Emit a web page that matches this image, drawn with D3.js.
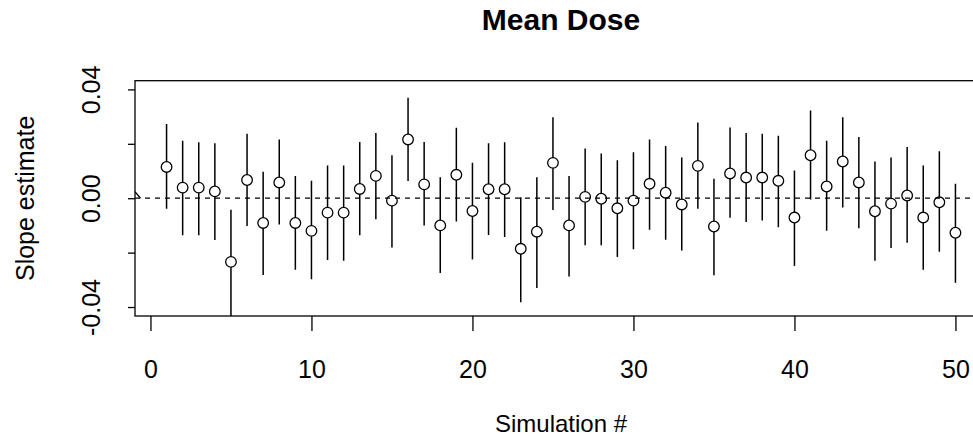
<!DOCTYPE html>
<html>
<head>
<meta charset="utf-8">
<script src="https://cdn.jsdelivr.net/npm/d3@7"></script>
<style>
    body { margin: 0; background: #fff; }
    svg { display: block; font-family: "Liberation Sans", Arial, sans-serif; }
    .axis text { font-size: 25px; fill: #000; }
    .axis line { stroke: #000; stroke-width: 1.3; }
    .axis path { display: none; }
</style>
</head>
<body>
<div id="chart"></div>
<script>
// simulation number, slope estimate and interval ends
const sims = d3.range(1, 51);
const estimate = [0.0115, 0.0039, 0.0039, 0.0025, -0.0234, 0.0067, -0.0091, 0.0058, -0.0091, -0.0120,
    -0.0053, -0.0053, 0.0034, 0.0082, -0.0009, 0.0216, 0.0051, -0.0100, 0.0086, -0.0047,
    0.0033, 0.0033, -0.0186, -0.0123, 0.0130, -0.0100, 0.0005, -0.0002, -0.0037, -0.0009,
    0.0053, 0.0020, -0.0023, 0.0119, -0.0104, 0.0091, 0.0076, 0.0076, 0.0064, -0.0071,
    0.0158, 0.0043, 0.0135, 0.0058, -0.0048, -0.0020, 0.0010, -0.0071, -0.0015, -0.0127];
const upper = [0.0273, 0.0211, 0.0206, 0.0202, -0.0042, 0.0237, 0.0097, 0.0216, 0.0082, 0.0064,
    0.0120, 0.0120, 0.0207, 0.0240, 0.0158, 0.0369, 0.0207, 0.0077, 0.0259, 0.0130,
    0.0202, 0.0206, 0.0004, 0.0077, 0.0298, 0.0082, 0.0183, 0.0164, 0.0140, 0.0169,
    0.0216, 0.0192, 0.0150, 0.0278, 0.0072, 0.0260, 0.0240, 0.0237, 0.0230, 0.0102,
    0.0322, 0.0211, 0.0298, 0.0225, 0.0135, 0.0150, 0.0188, 0.0120, 0.0173, 0.0053];
const lower = [-0.0039, -0.0136, -0.0136, -0.0154, -0.0440, -0.0102, -0.0282, -0.0097, -0.0263, -0.0298,
    -0.0227, -0.0230, -0.0136, -0.0077, -0.0181, 0.0063, -0.0100, -0.0275, -0.0086, -0.0225,
    -0.0135, -0.0143, -0.0382, -0.0330, -0.0043, -0.0288, -0.0173, -0.0173, -0.0216, -0.0188,
    -0.0116, -0.0153, -0.0192, -0.0039, -0.0283, -0.0072, -0.0087, -0.0082, -0.0107, -0.0249,
    -0.0005, -0.0120, -0.0034, -0.0110, -0.0230, -0.0183, -0.0164, -0.0263, -0.0197, -0.0311];

const xTicks = [0, 10, 20, 30, 40, 50];
const yTicks = [-0.04, -0.02, 0, 0.02, 0.04];
const yLabels = [-0.04, 0, 0.04];
// little stray curve piece poking in at the left edge
const edgeCurve = [[-0.96, 0.0024], [-0.62, 0.0]];

const width = 973, height = 439;
const box = { left: 135, right: 987, top: 80.7, bottom: 316 };

const svg = d3.select("#chart")
    .append("svg")
    .attr("width", width)
    .attr("height", height);

const xScale = d3.scaleLinear().domain([-0.96, 51.96]).range([box.left, box.right]);
const yScale = d3.scaleLinear().domain([-0.0433, 0.0432]).range([box.bottom, box.top]);

svg.append("clipPath").attr("id", "plotClip")
    .append("rect")
    .attr("x", box.left).attr("y", box.top)
    .attr("width", box.right - box.left).attr("height", box.bottom - box.top);

const data = sims.map((s, i) => ({ sim: s, est: estimate[i], lo: lower[i], hi: upper[i] }));
const r = 5.3;

const plot = svg.append("g").attr("clip-path", "url(#plotClip)");

// bars with a gap round the point (like plotCI)
plot.selectAll(".barTop")
    .data(data)
    .enter()
    .append("line")
    .attr("x1", d => xScale(d.sim))
    .attr("x2", d => xScale(d.sim))
    .attr("y1", d => yScale(d.hi))
    .attr("y2", d => yScale(d.est) - r)
    .attr("stroke", "#000")
    .attr("stroke-width", 1.5);

plot.selectAll(".barBottom")
    .data(data)
    .enter()
    .append("line")
    .attr("x1", d => xScale(d.sim))
    .attr("x2", d => xScale(d.sim))
    .attr("y1", d => yScale(d.est) + r)
    .attr("y2", d => yScale(d.lo))
    .attr("stroke", "#000")
    .attr("stroke-width", 1.5);

plot.selectAll("circle")
    .data(data)
    .enter()
    .append("circle")
    .attr("cx", d => xScale(d.sim))
    .attr("cy", d => yScale(d.est))
    .attr("r", r)
    .attr("fill", "none")
    .attr("stroke", "#000")
    .attr("stroke-width", 1.3);

// reference line at zero
plot.append("line")
    .attr("x1", box.left)
    .attr("x2", box.right)
    .attr("y1", yScale(0))
    .attr("y2", yScale(0))
    .attr("stroke", "#000")
    .attr("stroke-width", 1.3)
    .attr("stroke-dasharray", "5,5");

plot.append("path")
    .datum(edgeCurve)
    .attr("d", d3.line().x(d => xScale(d[0])).y(d => yScale(d[1])))
    .attr("fill", "none")
    .attr("stroke", "#000")
    .attr("stroke-width", 1.3);

// frame
svg.append("rect")
    .attr("x", box.left).attr("y", box.top)
    .attr("width", box.right - box.left).attr("height", box.bottom - box.top)
    .attr("fill", "none")
    .attr("stroke", "#000")
    .attr("stroke-width", 1.3);

// axes
svg.append("g")
    .attr("class", "axis")
    .attr("transform", `translate(0,${box.bottom})`)
    .call(d3.axisBottom(xScale).tickValues(xTicks).tickSize(15).tickPadding(29).tickFormat(d3.format("d")));

const yAxis = svg.append("g")
    .attr("class", "axis")
    .attr("transform", `translate(${box.left},0)`)
    .call(d3.axisLeft(yScale).tickValues(yTicks).tickSize(7)
        .tickFormat(d => yLabels.includes(d) ? d3.format(".2f")(d).replace("−", "-") : ""));

yAxis.selectAll("text")
    .attr("transform", "rotate(-90)")
    .attr("x", 0)
    .attr("y", -35)
    .attr("dy", 0)
    .attr("text-anchor", "middle");

// titles
svg.append("text")
    .attr("x", (box.left + box.right) / 2)
    .attr("y", 30)
    .attr("text-anchor", "middle")
    .attr("font-size", 30)
    .attr("font-weight", "bold")
    .text("Mean Dose");

svg.append("text")
    .attr("x", (box.left + box.right) / 2)
    .attr("y", 432)
    .attr("text-anchor", "middle")
    .attr("font-size", 24)
    .text("Simulation #");

svg.append("text")
    .attr("transform", `translate(34,${(box.top + box.bottom) / 2}) rotate(-90)`)
    .attr("text-anchor", "middle")
    .attr("font-size", 25)
    .text("Slope estimate");
</script>
</body>
</html>
